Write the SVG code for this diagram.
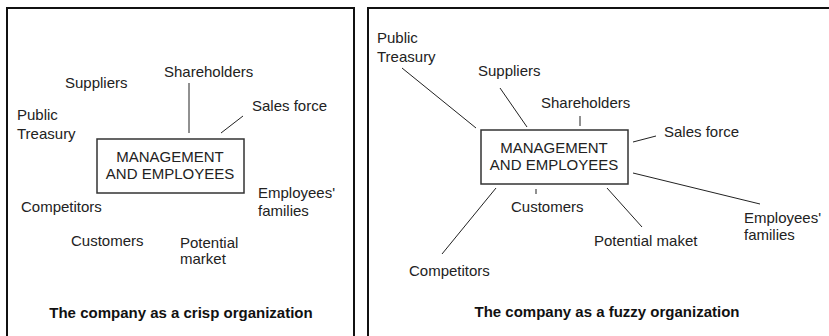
<svg xmlns="http://www.w3.org/2000/svg" width="829" height="336" viewBox="0 0 829 336">
  <style>
    .frame { fill: none; stroke: #111; stroke-width: 2; }
    .box { fill: #fff; stroke: #333; stroke-width: 1.5; }
    .lbl { font-family: "Liberation Sans", Arial, sans-serif; font-size: 15px; fill: #222; }
    .mid { text-anchor: middle; }
    .title { font-family: "Liberation Sans", Arial, sans-serif; font-size: 15px; font-weight: bold; fill: #111; }
    .link { stroke: #222; stroke-width: 1; fill: none; }
  </style>
  <rect width="829" height="336" fill="#fff"/>

  <!-- crisp organization panel -->
  <g id="panel-crisp">
    <rect class="frame" x="7" y="8" width="347" height="340"/>
    <g id="crisp-core">
      <rect class="box" x="97" y="139" width="147" height="54"/>
      <text class="lbl mid" x="170" y="162">MANAGEMENT</text>
      <text class="lbl mid" x="170" y="179">AND EMPLOYEES</text>
    </g>
    <g id="crisp-shareholders"><text class="lbl" x="164" y="77">Shareholders</text></g>
    <g id="crisp-suppliers"><text class="lbl" x="65" y="88">Suppliers</text></g>
    <g id="crisp-treasury">
      <text class="lbl" x="17" y="120">Public</text>
      <text class="lbl" x="17" y="139">Treasury</text>
    </g>
    <g id="crisp-sales"><text class="lbl" x="252" y="111">Sales force</text></g>
    <g id="crisp-competitors"><text class="lbl" x="21" y="212">Competitors</text></g>
    <g id="crisp-families">
      <text class="lbl" x="258" y="198">Employees'</text>
      <text class="lbl" x="258" y="216">families</text>
    </g>
    <g id="crisp-customers"><text class="lbl" x="71" y="246">Customers</text></g>
    <g id="crisp-market">
      <text class="lbl" x="180" y="248">Potential</text>
      <text class="lbl" x="180" y="264">market</text>
    </g>
    <g id="crisp-links">
      <line class="link" x1="189" y1="83" x2="189" y2="133"/>
      <line class="link" x1="221" y1="133" x2="243" y2="116"/>
    </g>
    <text class="title mid" x="181" y="318">The company as a crisp organization</text>
  </g>

  <!-- fuzzy organization panel -->
  <g id="panel-fuzzy">
    <rect class="frame" x="368" y="8" width="470" height="340"/>
    <g id="fuzzy-core">
      <rect class="box" x="481" y="130" width="147" height="54"/>
      <text class="lbl mid" x="554" y="153">MANAGEMENT</text>
      <text class="lbl mid" x="554" y="170">AND EMPLOYEES</text>
    </g>
    <g id="fuzzy-treasury">
      <text class="lbl" x="377" y="43">Public</text>
      <text class="lbl" x="377" y="62">Treasury</text>
    </g>
    <g id="fuzzy-suppliers"><text class="lbl" x="478" y="76">Suppliers</text></g>
    <g id="fuzzy-shareholders"><text class="lbl" x="541" y="108">Shareholders</text></g>
    <g id="fuzzy-sales"><text class="lbl" x="664" y="137">Sales force</text></g>
    <g id="fuzzy-families">
      <text class="lbl" x="744" y="223">Employees'</text>
      <text class="lbl" x="744" y="240">families</text>
    </g>
    <g id="fuzzy-customers"><text class="lbl" x="511" y="212">Customers</text></g>
    <g id="fuzzy-market"><text class="lbl" x="594" y="246">Potential maket</text></g>
    <g id="fuzzy-competitors"><text class="lbl" x="409" y="276">Competitors</text></g>
    <g id="fuzzy-links">
      <line class="link" x1="402" y1="68" x2="476" y2="128"/>
      <line class="link" x1="500" y1="88" x2="527" y2="127"/>
      <line class="link" x1="580" y1="116" x2="580" y2="126"/>
      <line class="link" x1="633" y1="142" x2="656" y2="136"/>
      <line class="link" x1="633" y1="173" x2="760" y2="204"/>
      <line class="link" x1="536" y1="189" x2="536" y2="194"/>
      <line class="link" x1="496" y1="188" x2="442" y2="254"/>
      <line class="link" x1="607" y1="188" x2="642" y2="227"/>
    </g>
    <text class="title mid" x="607" y="317">The company as a fuzzy organization</text>
  </g>
</svg>
